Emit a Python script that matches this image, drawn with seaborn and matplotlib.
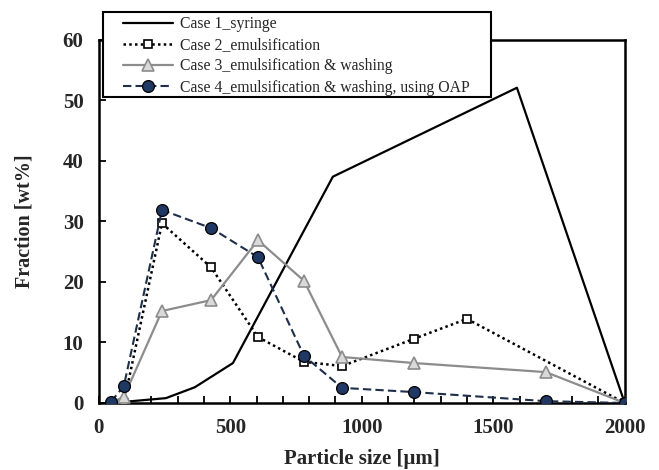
import matplotlib
matplotlib.use("Agg")
import matplotlib.pyplot as plt
import seaborn as sns
import pandas as pd
from matplotlib.ticker import MultipleLocator
from matplotlib.patches import Rectangle

sns.set_theme(style="white")
plt.rcParams['font.family'] = ['Liberation Serif', 'DejaVu Serif']

# Data
case1_x = [45, 100, 255, 365, 510, 890, 1590, 2000]
case1_y = [0.0, 0.2, 0.8, 2.6, 6.6, 37.4, 52.1, 0.0]

case2_x = [95, 240, 427, 605, 780, 925, 1198, 1400, 2000]
case2_y = [0.0, 29.7, 22.4, 10.9, 6.8, 6.1, 10.6, 13.9, 0.0]

case3_x = [45, 95, 240, 427, 605, 780, 925, 1198, 1700, 2000]
case3_y = [0.0, 1.0, 15.2, 17.0, 26.9, 20.2, 7.6, 6.6, 5.1, 0.0]

case4_x = [46, 95, 240, 427, 605, 780, 925, 1198, 1700, 2000]
case4_y = [0.2, 2.8, 31.9, 28.9, 24.1, 7.8, 2.5, 1.8, 0.3, 0.0]

labels = ["Case 1_syringe",
          "Case 2_emulsification",
          "Case 3_emulsification & washing",
          "Case 4_emulsification & washing, using OAP"]

x_ticks = [0, 500, 1000, 1500, 2000]
y_ticks = [0, 10, 20, 30, 40, 50, 60]

fig = plt.figure(figsize=(6.59, 4.70), dpi=100)
ax = fig.add_axes([0.150, 0.1426, 0.798, 0.7724])

d1 = pd.DataFrame({"x": case1_x, "y": case1_y})
d2 = pd.DataFrame({"x": case2_x, "y": case2_y})
d3 = pd.DataFrame({"x": case3_x, "y": case3_y})
d4 = pd.DataFrame({"x": case4_x, "y": case4_y})

sns.lineplot(data=d1, x="x", y="y", ax=ax, sort=False, color="black",
             lw=1.6, label=labels[0], zorder=3)
sns.lineplot(data=d2, x="x", y="y", ax=ax, sort=False, color="black",
             lw=1.8, linestyle=(0, (1, 1.3)), marker="s", markersize=6,
             markerfacecolor="white", markeredgecolor="black",
             markeredgewidth=1.2, label=labels[1], zorder=4)
sns.lineplot(data=d3, x="x", y="y", ax=ax, sort=False, color="#8c8c8c",
             lw=1.6, marker="^", markersize=8, markerfacecolor="#d9d9d9",
             markeredgecolor="#8c8c8c", markeredgewidth=1.2,
             label=labels[2], zorder=4)
sns.lineplot(data=d4, x="x", y="y", ax=ax, sort=False, color="#1f2f4a",
             lw=1.5, linestyle=(0, (4, 2)), marker="o", markersize=8.5,
             markerfacecolor="#1f3864", markeredgecolor="black",
             markeredgewidth=0.9, label=labels[3], zorder=5)

ax.set_xlim(0, 2000)
ax.set_ylim(0, 60)
ax.set_xticks(x_ticks)
ax.set_yticks(y_ticks)
ax.xaxis.set_minor_locator(MultipleLocator(100))
ax.tick_params(axis="both", which="both", direction="in", length=5,
               width=1.3, color="black", labelsize=15)
ax.tick_params(axis="x", which="both", bottom=True, pad=11)
ax.tick_params(axis="y", left=True, pad=11)
for lab in ax.get_xticklabels() + ax.get_yticklabels():
    lab.set_fontweight("bold")

for side, s in ax.spines.items():
    s.set_visible(True)
    s.set_color("black")
    s.set_linewidth(1.8)

ax.set_xlabel("Particle size [μm]", fontsize=15, fontweight="bold", labelpad=8)
ax.set_ylabel("Fraction [wt%]", fontsize=14.5, fontweight="bold", labelpad=20)

ax.get_legend().remove()
handles, labs = ax.get_legend_handles_labels()

frame = Rectangle((103 / 659, 1 - 97 / 470), 388 / 659, 85 / 470,
                  transform=fig.transFigure, facecolor="white",
                  edgecolor="black", linewidth=1.5, zorder=9)
fig.patches.append(frame)

leg = fig.legend(handles, labs, loc="upper left",
                 bbox_to_anchor=(123 / 659, 1 - 16 / 470),
                 bbox_transform=fig.transFigure,
                 fontsize=11.3, frameon=False, handlelength=3.2,
                 handletextpad=0.4, borderpad=0.0, labelspacing=0.33,
                 borderaxespad=0)
leg.set_zorder(10)

fig.savefig("out.png", dpi=100)
